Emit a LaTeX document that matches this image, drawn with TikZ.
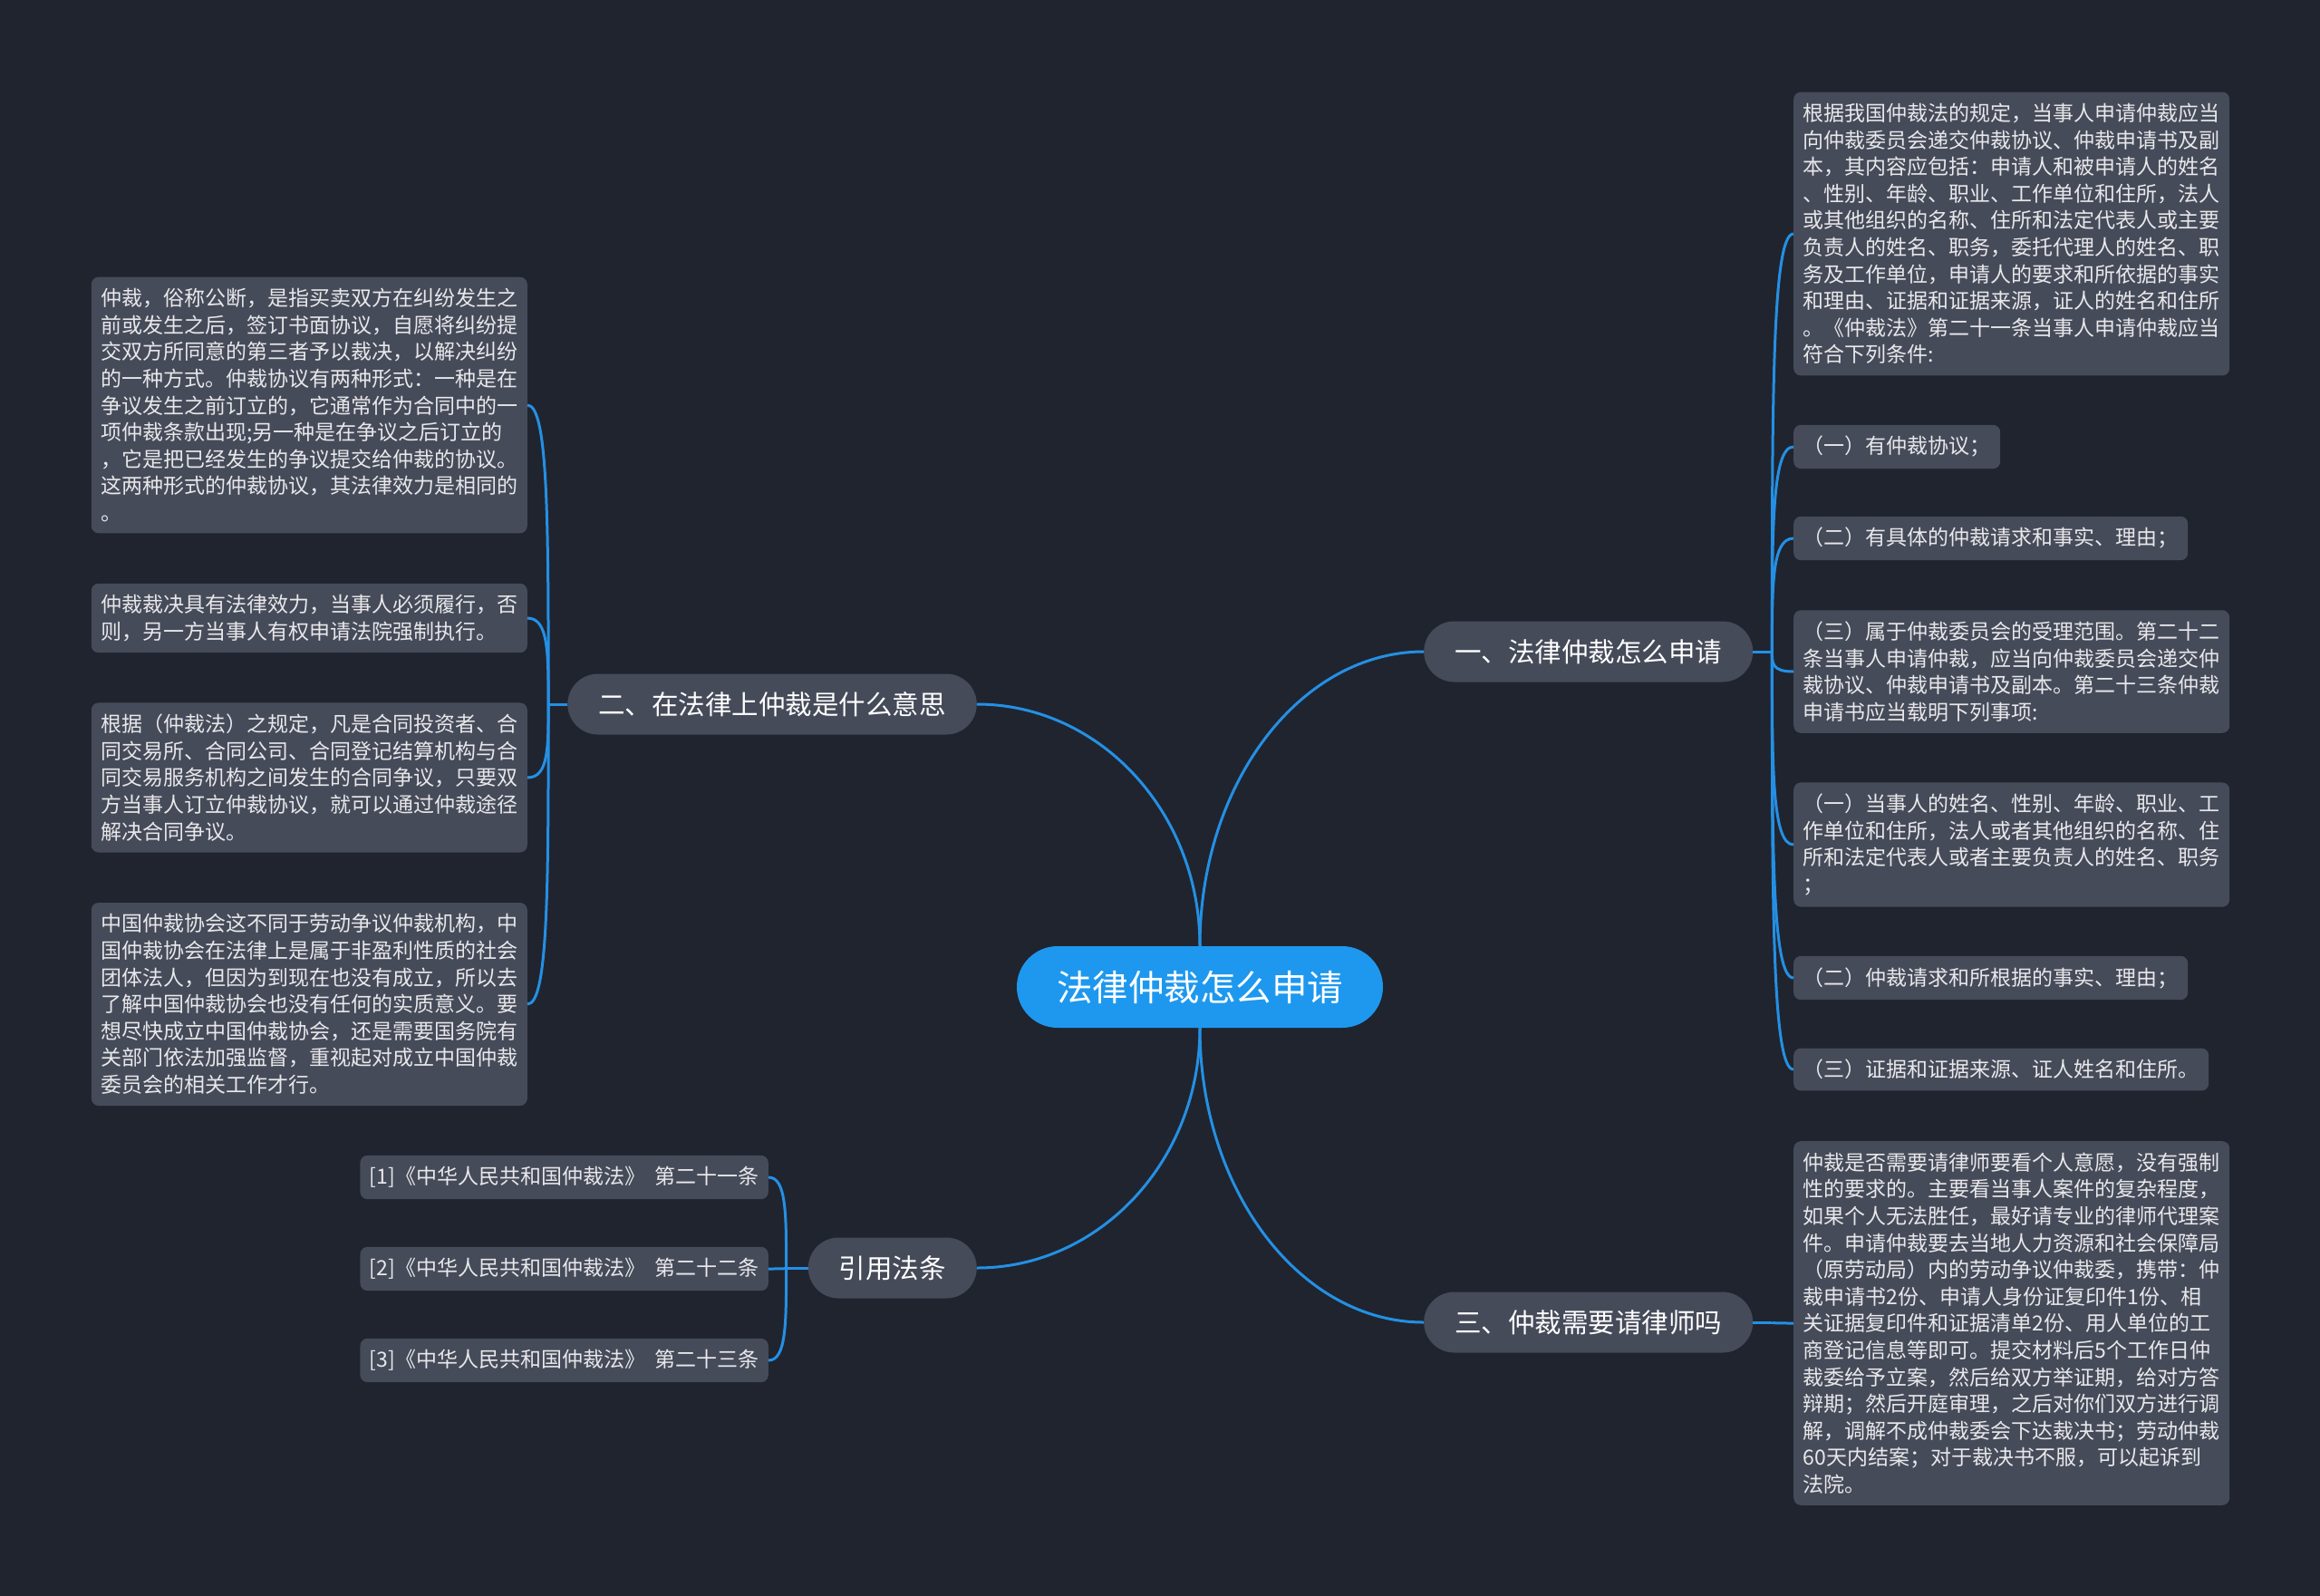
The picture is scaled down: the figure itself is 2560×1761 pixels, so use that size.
\documentclass[tikz,border=0pt]{standalone}
\usepackage{fontspec}
\setmainfont{Noto Sans CJK SC}
\usetikzlibrary{calc}
\definecolor{bg}{HTML}{20242F}
\definecolor{boxc}{HTML}{464B5A}
\definecolor{rootc}{HTML}{1E98EE}
\definecolor{linec}{HTML}{2490E4}
\definecolor{txt}{HTML}{E8E8EA}
\begin{document}
\begin{tikzpicture}[x=1pt,y=-1pt,
 root/.style={fill=rootc, text=white, rounded corners=45pt, minimum height=90pt, inner xsep=44pt, inner ysep=0pt, font=\fontsize{39.5pt}{40pt}\selectfont},
 topic/.style={fill=boxc, text=white, rounded corners=33.5pt, minimum height=67pt, inner xsep=34pt, inner ysep=0pt, font=\fontsize{29.5pt}{30pt}\selectfont},
 leaf/.style={fill=boxc, text=txt, rounded corners=8pt, inner xsep=10.5pt, inner ysep=12.5pt, align=left, font=\fontsize{23pt}{29.6pt}\selectfont},
 conn/.style={draw=linec, line width=3pt},
 ell/.style={to path={.. controls ($(\tikztostart)!0.552!(\tikztostart|-\tikztotarget)$) and ($(\tikztotarget)!0.552!(\tikztostart|-\tikztotarget)$) .. (\tikztotarget)}},
 br/.style={to path={.. controls ($(\tikztostart)!0.6!(\tikztostart|-\tikztotarget)$) and (\tikztostart|-\tikztotarget) .. (\tikztotarget)}},
]
\fill[bg] (0,0) rectangle (2560,1761);

% root and topics
\node[root] (c) at (1324,1089) {法律仲裁怎么申请};
\node[topic, anchor=west] (t1) at (1571,719) {一、法律仲裁怎么申请};
\node[topic, anchor=east] (t2) at (1078,777) {二、在法律上仲裁是什么意思};
\node[topic, anchor=west] (t3) at (1571,1459) {三、仲裁需要请律师吗};
\node[topic, anchor=east] (t4) at (1078,1399) {引用法条};

\coordinate (j1) at ($(t1.east)+(21,0)$);
\coordinate (j2) at ($(t2.west)+(-21,0)$);
\coordinate (j3) at ($(t3.east)+(21,0)$);
\coordinate (j4) at ($(t4.west)+(-24,0)$);

% right leaves of topic 1
\node[leaf, anchor=west] (r1) at (1979,258) {根据我国仲裁法的规定，当事人申请仲裁应当\\向仲裁委员会递交仲裁协议、仲裁申请书及副\\本，其内容应包括：申请人和被申请人的姓名\\、性别、年龄、职业、工作单位和住所，法人\\或其他组织的名称、住所和法定代表人或主要\\负责人的姓名、职务，委托代理人的姓名、职\\务及工作单位，申请人的要求和所依据的事实\\和理由、证据和证据来源，证人的姓名和住所\\。《仲裁法》第二十一条当事人申请仲裁应当\\符合下列条件:};
\node[leaf, anchor=west] (r2) at (1979,493) {（一）有仲裁协议；};
\node[leaf, anchor=west] (r3) at (1979,594) {（二）有具体的仲裁请求和事实、理由；};
\node[leaf, anchor=west] (r4) at (1979,741) {（三）属于仲裁委员会的受理范围。第二十二\\条当事人申请仲裁，应当向仲裁委员会递交仲\\裁协议、仲裁申请书及副本。第二十三条仲裁\\申请书应当载明下列事项:};
\node[leaf, anchor=west] (r5) at (1979,932) {（一）当事人的姓名、性别、年龄、职业、工\\作单位和住所，法人或者其他组织的名称、住\\所和法定代表人或者主要负责人的姓名、职务\\；};
\node[leaf, anchor=west] (r6) at (1979,1079) {（二）仲裁请求和所根据的事实、理由；};
\node[leaf, anchor=west] (r7) at (1979,1180) {（三）证据和证据来源、证人姓名和住所。};

% right leaf of topic 3
\node[leaf, anchor=west] (r8) at (1979,1460) {仲裁是否需要请律师要看个人意愿，没有强制\\性的要求的。主要看当事人案件的复杂程度，\\如果个人无法胜任，最好请专业的律师代理案\\件。申请仲裁要去当地人力资源和社会保障局\\（原劳动局）内的劳动争议仲裁委，携带：仲\\裁申请书2份、申请人身份证复印件1份、相\\关证据复印件和证据清单2份、用人单位的工\\商登记信息等即可。提交材料后5个工作日仲\\裁委给予立案，然后给双方举证期，给对方答\\辩期；然后开庭审理，之后对你们双方进行调\\解，调解不成仲裁委会下达裁决书；劳动仲裁\\60天内结案；对于裁决书不服，可以起诉到\\法院。};

% left leaves of topic 2
\node[leaf, anchor=east] (l1) at (582,447) {仲裁，俗称公断，是指买卖双方在纠纷发生之\\前或发生之后，签订书面协议，自愿将纠纷提\\交双方所同意的第三者予以裁决，以解决纠纷\\的一种方式。仲裁协议有两种形式：一种是在\\争议发生之前订立的，它通常作为合同中的一\\项仲裁条款出现;另一种是在争议之后订立的\\，它是把已经发生的争议提交给仲裁的协议。\\这两种形式的仲裁协议，其法律效力是相同的\\。};
\node[leaf, anchor=east] (l2) at (582,682) {仲裁裁决具有法律效力，当事人必须履行，否\\则，另一方当事人有权申请法院强制执行。};
\node[leaf, anchor=east] (l3) at (582,858) {根据（仲裁法）之规定，凡是合同投资者、合\\同交易所、合同公司、合同登记结算机构与合\\同交易服务机构之间发生的合同争议，只要双\\方当事人订立仲裁协议，就可以通过仲裁途径\\解决合同争议。};
\node[leaf, anchor=east] (l4) at (582,1108) {中国仲裁协会这不同于劳动争议仲裁机构，中\\国仲裁协会在法律上是属于非盈利性质的社会\\团体法人，但因为到现在也没有成立，所以去\\了解中国仲裁协会也没有任何的实质意义。要\\想尽快成立中国仲裁协会，还是需要国务院有\\关部门依法加强监督，重视起对成立中国仲裁\\委员会的相关工作才行。};

% citations
\node[leaf, anchor=east] (k1) at (848,1299) {[1]《中华人民共和国仲裁法》\hspace{10pt}第二十一条};
\node[leaf, anchor=east] (k2) at (848,1400) {[2]《中华人民共和国仲裁法》\hspace{10pt}第二十二条};
\node[leaf, anchor=east] (k3) at (848,1501) {[3]《中华人民共和国仲裁法》\hspace{10pt}第二十三条};

% connectors
\draw[conn] (c.north) to[ell] (t1.west);
\draw[conn] (c.north) to[ell] (t2.east);
\draw[conn] (c.south) to[ell] (t3.west);
\draw[conn] (c.south) to[ell] (t4.east);

\draw[conn] (t1.east) -- (j1);
\foreach \n in {r1,r2,r3,r4,r5,r6,r7} \draw[conn] (j1) to[br] (\n.west);
\draw[conn] (t3.east) -- (j3);
\draw[conn] (j3) to[br] (r8.west);
\draw[conn] (t2.west) -- (j2);
\foreach \n in {l1,l2,l3,l4} \draw[conn] (j2) to[br] (\n.east);
\draw[conn] (t4.west) -- (j4);
\foreach \n in {k1,k2,k3} \draw[conn] (j4) to[br] (\n.east);
\end{tikzpicture}
\end{document}
